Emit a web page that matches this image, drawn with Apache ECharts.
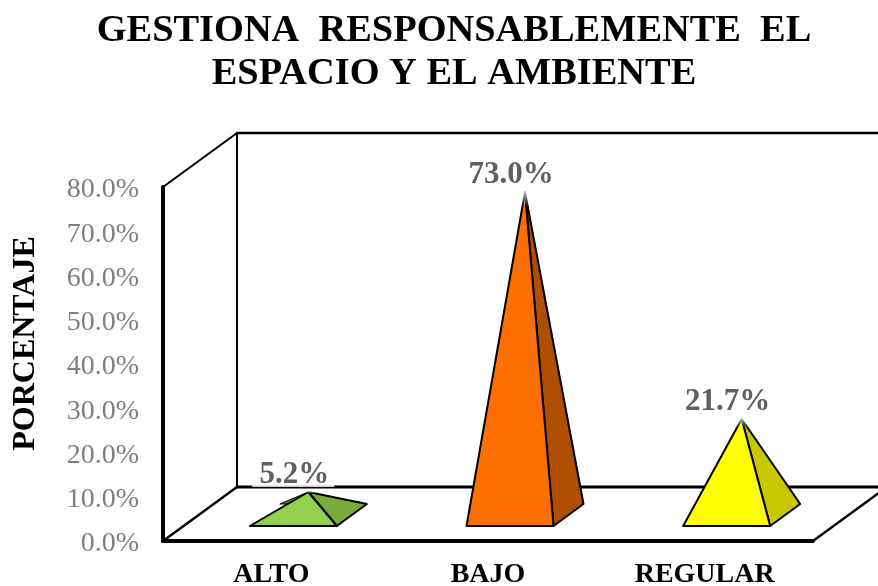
<!DOCTYPE html>
<html>
<head>
<meta charset="utf-8">
<style>html,body{margin:0;padding:0;background:#fff;overflow:hidden}#c{width:878px;height:586px}</style>
<script src="https://cdn.jsdelivr.net/npm/echarts@6/dist/echarts.min.js"></script>
</head>
<body>
<div id="c"></div>
<script>
const categories = ['ALTO', 'BAJO', 'REGULAR'];
const porcentajes = [5.2, 73.0, 21.7];
const yTicks = { min: 0, max: 80, interval: 10 };
const titleLines = ['GESTIONA  RESPONSABLEMENTE  EL', 'ESPACIO Y EL AMBIENTE'];
const yName = 'PORCENTAJE';
const frontColors = ['#92d050', '#ff6f00', '#ffff00'];
const sideColors = ['#78ab3c', '#b04e00', '#c8c800'];
const backColors = ['#5f8a2e', '#8a3d00', '#a0a000'];

const SERIF = '"Liberation Serif","Times New Roman",serif';
const WALL = [74, -54];      // 3D depth of the chart box
const BAR_SHIFT = [22, -15]; // front of the pyramid base relative to band centre / floor
const BAR_DEPTH = [30, -22]; // depth of the pyramid base
const HALF = 43.5;

const chart = echarts.init(document.getElementById('c'), null, { renderer: 'canvas' });

function renderFrame(params) {
  const c = params.coordSys;
  const x0 = c.x, x1 = c.x + c.width, yT = c.y, yB = c.y + c.height;
  const bx = x0 + WALL[0], dy = WALL[1];
  const line = (a, b, w) => ({
    type: 'line', silent: true,
    shape: { x1: a[0], y1: a[1], x2: b[0], y2: b[1] },
    style: { stroke: '#000', lineWidth: w, lineCap: 'round' }
  });
  return { type: 'group', children: [
    line([x0, yT], [bx, yT + dy], 2),
    line([bx, yT + dy], [x1 + WALL[0], yT + dy], 2.5),
    line([bx, yT + dy], [bx, yB + dy], 2),
    line([x0, yB], [bx, yB + dy], 2.5),
    line([bx, yB + dy], [x1 + WALL[0], yB + dy], 3),
    line([x1, yB], [x1 + WALL[0], yB + dy], 2.5)
  ]};
}

function renderPyramid(params, api) {
  const i = api.value(0), v = api.value(1);
  const base = api.coord([i, 0]);
  const top = api.coord([i, v]);
  const cx = base[0] + BAR_SHIFT[0], by = base[1] + BAR_SHIFT[1];
  const h = base[1] - top[1];
  const fl = [cx - HALF, by], fr = [cx + HALF, by];
  const bl = [fl[0] + BAR_DEPTH[0], by + BAR_DEPTH[1]], br = [fr[0] + BAR_DEPTH[0], by + BAR_DEPTH[1]];
  const apex = [cx + BAR_DEPTH[0] / 2, by + BAR_DEPTH[1] / 2 - h];
  const poly = (pts, fill, w) => ({
    type: 'polygon', silent: true,
    shape: { points: pts },
    style: { fill: fill, stroke: '#000', lineWidth: w, lineJoin: 'round' }
  });
  const labelY = apex[1] - 19;
  const txt = v.toFixed(1) + '%';
  const bgW = txt.length * 20.5;
  const fade = Math.min(16, h * 0.1);
  return { type: 'group', children: [
    poly([bl, apex, br], backColors[i], 1),
    poly([fr, br, apex], sideColors[i], 2),
    poly([fl, fr, apex], frontColors[i], 2),
    { type: 'rect', silent: true,
      shape: { x: apex[0] - 9, y: apex[1] - 1, width: 18, height: fade },
      style: { fill: new echarts.graphic.LinearGradient(0, 0, 0, 1, [
        { offset: 0, color: 'rgba(255,255,255,0.8)' },
        { offset: 1, color: 'rgba(255,255,255,0)' }
      ]) } },
    { type: 'rect', silent: true,
      shape: { x: cx - bgW / 2, y: labelY - 20, width: bgW, height: 34 },
      style: { fill: 'rgba(255,255,255,0.8)' } },
    { type: 'text', silent: true,
      style: { text: txt, x: cx + 1, y: labelY + 2, align: 'center', verticalAlign: 'middle',
        fill: '#606060', font: 'bold 31px ' + SERIF } }
  ]};
}

chart.setOption({
  animation: false,
  backgroundColor: '#fff',
  title: {
    text: titleLines.join('\n'),
    left: 449, top: 5, textAlign: 'center',
    textStyle: { fontFamily: SERIF, fontWeight: 'bold', fontSize: 38.4, color: '#000', lineHeight: 43 }
  },
  grid: { left: 163, right: 65, top: 187, bottom: 45, containLabel: false, outerBoundsMode: 'none' },
  xAxis: {
    type: 'category', data: categories,
    axisTick: { show: false },
    axisLine: { onZero: false, lineStyle: { color: '#000', width: 4 } },
    axisLabel: { color: '#000', fontFamily: SERIF, fontWeight: 'bold', fontSize: 28, margin: 20, interval: 0 }
  },
  yAxis: {
    type: 'value', min: yTicks.min, max: yTicks.max, interval: yTicks.interval,
    name: yName, nameLocation: 'middle', nameRotate: 90, nameGap: 121,
    nameTextStyle: { color: '#000', fontFamily: SERIF, fontWeight: 'bold', fontSize: 32, padding: [0, 0, 0, 41] },
    splitLine: { show: false },
    axisTick: { show: false },
    axisLine: { show: true, lineStyle: { color: '#000', width: 4 } },
    axisLabel: { color: '#7f7f7f', fontFamily: SERIF, fontSize: 28, margin: 24, verticalAlign: 'top', lineHeight: 6,
      formatter: (v) => v.toFixed(1) + '%' }
  },
  series: [
    { type: 'custom', coordinateSystem: 'cartesian2d', clip: false, z: 1, silent: true,
      data: [[0, 0]], renderItem: renderFrame },
    { type: 'custom', coordinateSystem: 'cartesian2d', clip: false, z: 5, silent: true,
      data: categories.map((c, i) => [i, porcentajes[i]]), renderItem: renderPyramid }
  ]
});
</script>
</body>
</html>
